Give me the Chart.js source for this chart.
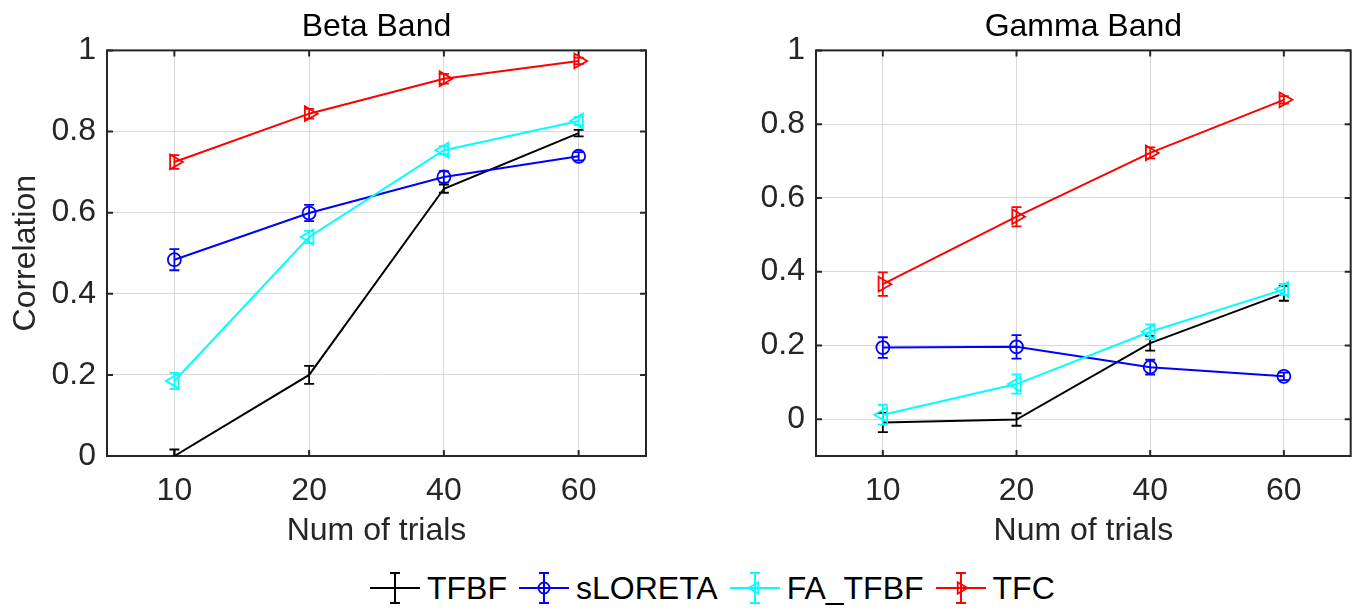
<!DOCTYPE html>
<html>
<head>
<meta charset="utf-8">
<script src="https://cdn.jsdelivr.net/npm/chart.js@4.4.0/dist/chart.umd.min.js"></script>
<style>
  html, body { margin: 0; padding: 0; background: #fff; overflow: hidden; }
  body { width: 1361px; height: 610px; position: relative; font-family: "Liberation Sans", Arial, sans-serif; }
  #betaChart { position: absolute; left: 0; top: 0; }
  #gammaChart { position: absolute; left: 680px; top: 0; }
  #legend { position: absolute; left: 370px; top: 568px; height: 40px; display: flex; align-items: center; white-space: nowrap; }
  .item { display: flex; align-items: center; margin-right: 12px; }
  .item canvas { margin-right: 7px; }
  .item span { font-size: 32px; line-height: 40px; color: #000; }
</style>
</head>
<body>
<canvas id="betaChart" width="680" height="560"></canvas>
<canvas id="gammaChart" width="681" height="560"></canvas>
<div id="legend"></div>
<script>

// categories and ticks
const trials = ['10', '20', '40', '60'];
const yTicks = [0, 0.2, 0.4, 0.6, 0.8, 1];

// Beta band
const betaTFBF = [0.0, 0.200, 0.659, 0.796];
const betaTFBFErr = [0.016, 0.022, 0.010, 0.008];
const betaSLORETA = [0.484, 0.599, 0.688, 0.739];
const betaSLORETAErr = [0.026, 0.020, 0.014, 0.010];
const betaFATFBF = [0.185, 0.540, 0.754, 0.826];
const betaFATFBFErr = [0.020, 0.015, 0.010, 0.010];
const betaTFC = [0.725, 0.844, 0.930, 0.974];
const betaTFCErr = [0.017, 0.012, 0.012, 0.008];

// Gamma band
const gammaTFBF = [-0.009, -0.001, 0.206, 0.341];
const gammaTFBFErr = [0.026, 0.017, 0.020, 0.020];
const gammaSLORETA = [0.194, 0.196, 0.141, 0.116];
const gammaSLORETAErr = [0.028, 0.032, 0.020, 0.010];
const gammaFATFBF = [0.012, 0.095, 0.237, 0.352];
const gammaFATFBFErr = [0.027, 0.026, 0.020, 0.015];
const gammaTFC = [0.366, 0.549, 0.722, 0.866];
const gammaTFCErr = [0.032, 0.026, 0.015, 0.010];

const methods = ['TFBF', 'sLORETA', 'FA_TFBF', 'TFC'];

const FONT = '"Liberation Sans", Arial, sans-serif';
const AXIS_COLOR = '#262626';
const GRID_COLOR = '#d9d9d9';

// look of each method
const styles = {
  'TFBF':    { color: '#000000', pointStyle: 'circle',   radius: 0,   rotation: 0 },
  'sLORETA': { color: '#0000ff', pointStyle: 'circle',   radius: 6.5, rotation: 0 },
  'FA_TFBF': { color: '#00ffff', pointStyle: 'triangle', radius: 8.5, rotation: -90 },
  'TFC':     { color: '#ff0000', pointStyle: 'triangle', radius: 8.5, rotation: 90 }
};

// box around plot area with inward ticks, like matlab axes
const framePlugin = {
  id: 'frame',
  beforeDatasetsDraw(chart) {
    const { ctx, chartArea: a } = chart;
    const x = chart.scales.x, y = chart.scales.y;
    ctx.save();
    ctx.strokeStyle = AXIS_COLOR;
    ctx.lineWidth = 2;
    ctx.strokeRect(a.left, a.top, a.right - a.left, a.bottom - a.top);
    ctx.beginPath();
    x.ticks.forEach((t, i) => {
      const px = x.getPixelForTick(i);
      ctx.moveTo(px, a.bottom); ctx.lineTo(px, a.bottom - 6);
      ctx.moveTo(px, a.top); ctx.lineTo(px, a.top + 6);
    });
    y.ticks.forEach((t, i) => {
      const py = y.getPixelForTick(i);
      ctx.moveTo(a.left, py); ctx.lineTo(a.left + 6, py);
      ctx.moveTo(a.right, py); ctx.lineTo(a.right - 6, py);
    });
    ctx.stroke();
    ctx.restore();
  }
};

// vertical error bars with caps
const errorBarPlugin = {
  id: 'errorBars',
  afterDatasetDraw(chart, args) {
    const ds = chart.data.datasets[args.index];
    if (!ds.errorBars) return;
    const { ctx, chartArea: a } = chart;
    const y = chart.scales.y;
    ctx.save();
    ctx.beginPath();
    ctx.rect(a.left, a.top, a.right - a.left, a.bottom - a.top);
    ctx.clip();
    ctx.strokeStyle = ds.borderColor;
    ctx.lineWidth = 1.8;
    ctx.beginPath();
    args.meta.data.forEach((pt, i) => {
      const v = ds.data[i];
      const top = y.getPixelForValue(v + ds.errorBars[i]);
      const bot = y.getPixelForValue(v - ds.errorBars[i]);
      ctx.moveTo(pt.x, top); ctx.lineTo(pt.x, bot);
      ctx.moveTo(pt.x - 5, top); ctx.lineTo(pt.x + 5, top);
      ctx.moveTo(pt.x - 5, bot); ctx.lineTo(pt.x + 5, bot);
    });
    ctx.stroke();
    ctx.restore();
  }
};

const makeDataset = (name, values, errs, order) => {
  const s = styles[name];
  return {
    label: name,
    data: values,
    errorBars: errs,
    order: order,
    borderColor: s.color,
    backgroundColor: s.color,
    borderWidth: 2,
    tension: 0,
    pointStyle: s.pointStyle,
    pointRadius: s.radius,
    pointRotation: s.rotation,
    pointBorderWidth: 1.8,
    pointBorderColor: s.color,
    pointBackgroundColor: 'rgba(0,0,0,0)'
  };
};

const makeChart = (canvasId, title, datasets, yMin, yAxisWidth, padRight, showYTitle) => {
  const ctx = document.getElementById(canvasId);
  return new Chart(ctx, {
    type: 'line',
    data: { labels: trials, datasets: datasets },
    options: {
      responsive: false,
      animation: false,
      layout: { padding: { left: 0, right: padRight, top: 0, bottom: 0 } },
      plugins: {
        legend: { display: false },
        tooltip: { enabled: false },
        title: {
          display: true,
          text: title,
          fullSize: false,
          color: '#000',
          font: { family: FONT, size: 32, weight: 'normal' },
          padding: { top: 8, bottom: 4 }
        }
      },
      scales: {
        x: {
          type: 'category',
          offset: true,
          grid: { color: GRID_COLOR, lineWidth: 1, drawTicks: false },
          border: { display: false },
          ticks: { color: AXIS_COLOR, font: { family: FONT, size: 32 }, padding: 16, maxRotation: 0 },
          title: {
            display: true,
            text: 'Num of trials',
            color: AXIS_COLOR,
            font: { family: FONT, size: 32 },
            padding: { top: 0, bottom: 10 }
          },
          afterFit: (scale) => { scale.height = 104; }
        },
        y: {
          type: 'linear',
          min: yMin,
          max: 1,
          grid: { color: GRID_COLOR, lineWidth: 1, drawTicks: false },
          border: { display: false },
          ticks: {
            color: AXIS_COLOR,
            font: { family: FONT, size: 32 },
            padding: 11,
            callback: (v) => String(v)
          },
          afterBuildTicks: (scale) => { scale.ticks = yTicks.map(v => ({ value: v })); },
          title: {
            display: showYTitle,
            text: 'Correlation',
            color: AXIS_COLOR,
            font: { family: FONT, size: 32 },
            padding: { top: 7, bottom: 0 }
          },
          afterFit: (scale) => { scale.width = yAxisWidth; }
        }
      }
    },
    plugins: [framePlugin, errorBarPlugin]
  });
};

const betaChart = makeChart('betaChart', 'Beta Band', [
  makeDataset('TFBF', betaTFBF, betaTFBFErr, 4),
  makeDataset('sLORETA', betaSLORETA, betaSLORETAErr, 3),
  makeDataset('FA_TFBF', betaFATFBF, betaFATFBFErr, 2),
  makeDataset('TFC', betaTFC, betaTFCErr, 1)
], 0, 107, 34, true);

const gammaChart = makeChart('gammaChart', 'Gamma Band', [
  makeDataset('TFBF', gammaTFBF, gammaTFBFErr, 4),
  makeDataset('sLORETA', gammaSLORETA, gammaSLORETAErr, 3),
  makeDataset('FA_TFBF', gammaFATFBF, gammaFATFBFErr, 2),
  makeDataset('TFC', gammaTFC, gammaTFCErr, 1)
], -0.1, 136, 6, false);

// shared legend under both plots
const legend = document.getElementById('legend');
methods.forEach(name => {
  const s = styles[name];
  const item = document.createElement('div');
  item.className = 'item';
  const icon = document.createElement('canvas');
  icon.width = 50; icon.height = 40;
  const c = icon.getContext('2d');
  c.strokeStyle = s.color;
  c.fillStyle = 'rgba(0,0,0,0)';
  c.lineWidth = 2;
  c.beginPath();
  c.moveTo(0, 20); c.lineTo(50, 20);
  c.moveTo(25, 5); c.lineTo(25, 35);
  c.moveTo(20, 5); c.lineTo(30, 5);
  c.moveTo(20, 35); c.lineTo(30, 35);
  c.stroke();
  if (s.radius > 0) {
    c.lineWidth = 1.8;
    Chart.helpers.drawPoint(c, {
      pointStyle: s.pointStyle,
      rotation: s.rotation,
      radius: s.pointStyle === 'circle' ? 5.5 : 6.5,
      borderWidth: 1.8
    }, 25, 20);
  }
  item.appendChild(icon);
  const label = document.createElement('span');
  label.textContent = name;
  item.appendChild(label);
  legend.appendChild(item);
});

</script>
</body>
</html>
